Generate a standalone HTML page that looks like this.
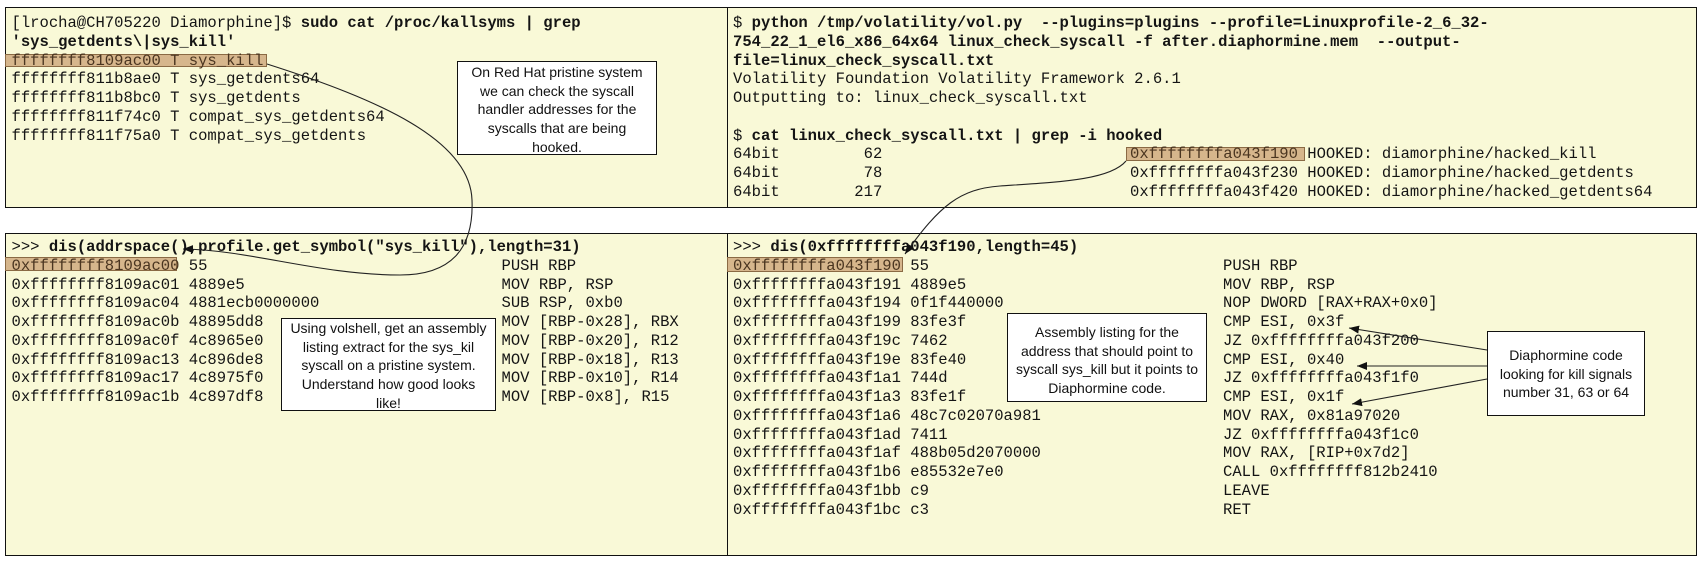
<!DOCTYPE html>
<html>
<head>
<meta charset="utf-8">
<style>
html,body{margin:0;padding:0;background:#fff;}
body{width:1704px;height:566px;position:relative;overflow:hidden;}
.panel{position:absolute;box-sizing:border-box;border:1px solid #111;background:#F9F9D7;}
.div{position:absolute;width:1px;background:#111;}
.mono{position:absolute;font-family:"Liberation Mono",monospace;font-size:15.55px;line-height:18.75px;color:#141414;white-space:normal;}
.mono div{position:relative;height:18.75px;white-space:pre;}
.mono b{font-weight:bold;}
.c2{position:absolute;left:490px;top:0;}
.hl{position:absolute;box-sizing:border-box;background:#D6B68C;border:1px solid #8a6a44;}
.br{color:#4a3520;}
.call{position:absolute;box-sizing:border-box;background:#fff;border:1px solid #111;font-family:"Liberation Sans",Arial,sans-serif;font-size:14px;line-height:18.7px;text-align:center;color:#111;white-space:nowrap;}
svg{position:absolute;left:0;top:0;}
</style>
</head>
<body>
<div class="panel" style="left:5px;top:7px;width:1692px;height:201px;"></div>
<div class="div" style="left:727px;top:7px;height:201px;"></div>
<div class="panel" style="left:5px;top:233px;width:1692px;height:323px;"></div>
<div class="div" style="left:727px;top:233px;height:323px;"></div>

<div class="hl" style="left:5px;top:54px;width:262px;height:13px;"></div>
<div class="hl" style="left:1126px;top:147px;width:179px;height:14px;"></div>
<div class="hl" style="left:5px;top:257px;width:172px;height:14px;"></div>
<div class="hl" style="left:727px;top:257px;width:176px;height:15px;"></div>

<div class="mono" style="left:11.5px;top:14px;"><div>[lrocha@CH705220 Diamorphine]$ <b>sudo cat /proc/kallsyms | grep</b></div><div><b>'sys_getdents\|sys_kill'</b></div><div class="br">ffffffff8109ac00 T sys_kill</div><div>ffffffff811b8ae0 T sys_getdents64</div><div>ffffffff811b8bc0 T sys_getdents</div><div>ffffffff811f74c0 T compat_sys_getdents64</div><div>ffffffff811f75a0 T compat_sys_getdents</div></div>

<div class="mono" style="left:733px;top:14px;"><div>$ <b>python /tmp/volatility/vol.py  --plugins=plugins --profile=Linuxprofile-2_6_32-</b></div><div><b>754_22_1_el6_x86_64x64 linux_check_syscall -f after.diaphormine.mem  --output-</b></div><div><b>file=linux_check_syscall.txt</b></div><div>Volatility Foundation Volatility Framework 2.6.1</div><div>Outputting to: linux_check_syscall.txt</div><div> </div><div>$ <b>cat linux_check_syscall.txt | grep -i hooked</b></div><div>64bit         62<span style="position:absolute;left:397px;top:0;"><span class="br">0xffffffffa043f190</span> HOOKED: diamorphine/hacked_kill</span></div><div>64bit         78<span style="position:absolute;left:397px;top:0;">0xffffffffa043f230 HOOKED: diamorphine/hacked_getdents</span></div><div>64bit        217<span style="position:absolute;left:397px;top:0;">0xffffffffa043f420 HOOKED: diamorphine/hacked_getdents64</span></div></div>

<div class="mono" style="left:11.5px;top:238px;"><div>&gt;&gt;&gt; <b>dis(addrspace(),profile.get_symbol("sys_kill"),length=31)</b></div><div><span class="br">0xffffffff8109ac00</span> 55<span class="c2">PUSH RBP</span></div><div>0xffffffff8109ac01 4889e5<span class="c2">MOV RBP, RSP</span></div><div>0xffffffff8109ac04 4881ecb0000000<span class="c2">SUB RSP, 0xb0</span></div><div>0xffffffff8109ac0b 48895dd8<span class="c2">MOV [RBP-0x28], RBX</span></div><div>0xffffffff8109ac0f 4c8965e0<span class="c2">MOV [RBP-0x20], R12</span></div><div>0xffffffff8109ac13 4c896de8<span class="c2">MOV [RBP-0x18], R13</span></div><div>0xffffffff8109ac17 4c8975f0<span class="c2">MOV [RBP-0x10], R14</span></div><div>0xffffffff8109ac1b 4c897df8<span class="c2">MOV [RBP-0x8], R15</span></div></div>

<div class="mono" style="left:733px;top:238px;"><div>&gt;&gt;&gt; <b>dis(0xffffffffa043f190,length=45)</b></div><div><span class="br">0xffffffffa043f190</span> 55<span class="c2">PUSH RBP</span></div><div>0xffffffffa043f191 4889e5<span class="c2">MOV RBP, RSP</span></div><div>0xffffffffa043f194 0f1f440000<span class="c2">NOP DWORD [RAX+RAX+0x0]</span></div><div>0xffffffffa043f199 83fe3f<span class="c2">CMP ESI, 0x3f</span></div><div>0xffffffffa043f19c 7462<span class="c2">JZ 0xffffffffa043f200</span></div><div>0xffffffffa043f19e 83fe40<span class="c2">CMP ESI, 0x40</span></div><div>0xffffffffa043f1a1 744d<span class="c2">JZ 0xffffffffa043f1f0</span></div><div>0xffffffffa043f1a3 83fe1f<span class="c2">CMP ESI, 0x1f</span></div><div>0xffffffffa043f1a6 48c7c02070a981<span class="c2">MOV RAX, 0x81a97020</span></div><div>0xffffffffa043f1ad 7411<span class="c2">JZ 0xffffffffa043f1c0</span></div><div>0xffffffffa043f1af 488b05d2070000<span class="c2">MOV RAX, [RIP+0x7d2]</span></div><div>0xffffffffa043f1b6 e85532e7e0<span class="c2">CALL 0xffffffff812b2410</span></div><div>0xffffffffa043f1bb c9<span class="c2">LEAVE</span></div><div>0xffffffffa043f1bc c3<span class="c2">RET</span></div></div>

<svg width="1704" height="566" viewBox="0 0 1704 566">
<defs>
<marker id="ah" markerUnits="userSpaceOnUse" markerWidth="11" markerHeight="8" refX="10" refY="4" orient="auto">
<path d="M0,0 L10,4 L0,8 z" fill="#111"/>
</marker>
</defs>
<g fill="none" stroke="#222" stroke-width="1.1">
<path d="M 267 64 C 380 100, 470 140, 472 200 C 474 250, 450 275, 400 275 C 320 275, 250 250, 183 249" marker-end="url(#ah)"/>
<path d="M 1126 161 C 1110 180, 1060 182, 1000 186 C 960 189, 940 205, 905 254" marker-end="url(#ah)"/>
<path d="M 1487 350 L 1349 328" marker-end="url(#ah)"/>
<path d="M 1487 366 L 1357 366" marker-end="url(#ah)"/>
<path d="M 1487 379 L 1352 404" marker-end="url(#ah)"/>
</g>
</svg>

<div class="call" style="left:457px;top:61px;width:200px;height:94px;padding-top:1px;">On Red Hat pristine system<br>we can check the syscall<br>handler addresses for the<br>syscalls that are being<br>hooked.</div>
<div class="call" style="left:281px;top:318px;width:215px;height:93px;padding-top:0px;">Using volshell, get an assembly<br>listing extract for the sys_kil<br>syscall on a pristine system.<br>Understand how good looks<br>like!</div>
<div class="call" style="left:1007px;top:313px;width:200px;height:89px;padding-top:9px;">Assembly listing for the<br>address that should point to<br>syscall sys_kill but it points to<br>Diaphormine code.</div>
<div class="call" style="left:1487px;top:331px;width:158px;height:85px;padding-top:14px;">Diaphormine code<br>looking for kill signals<br>number 31, 63 or 64</div>
</body>
</html>
